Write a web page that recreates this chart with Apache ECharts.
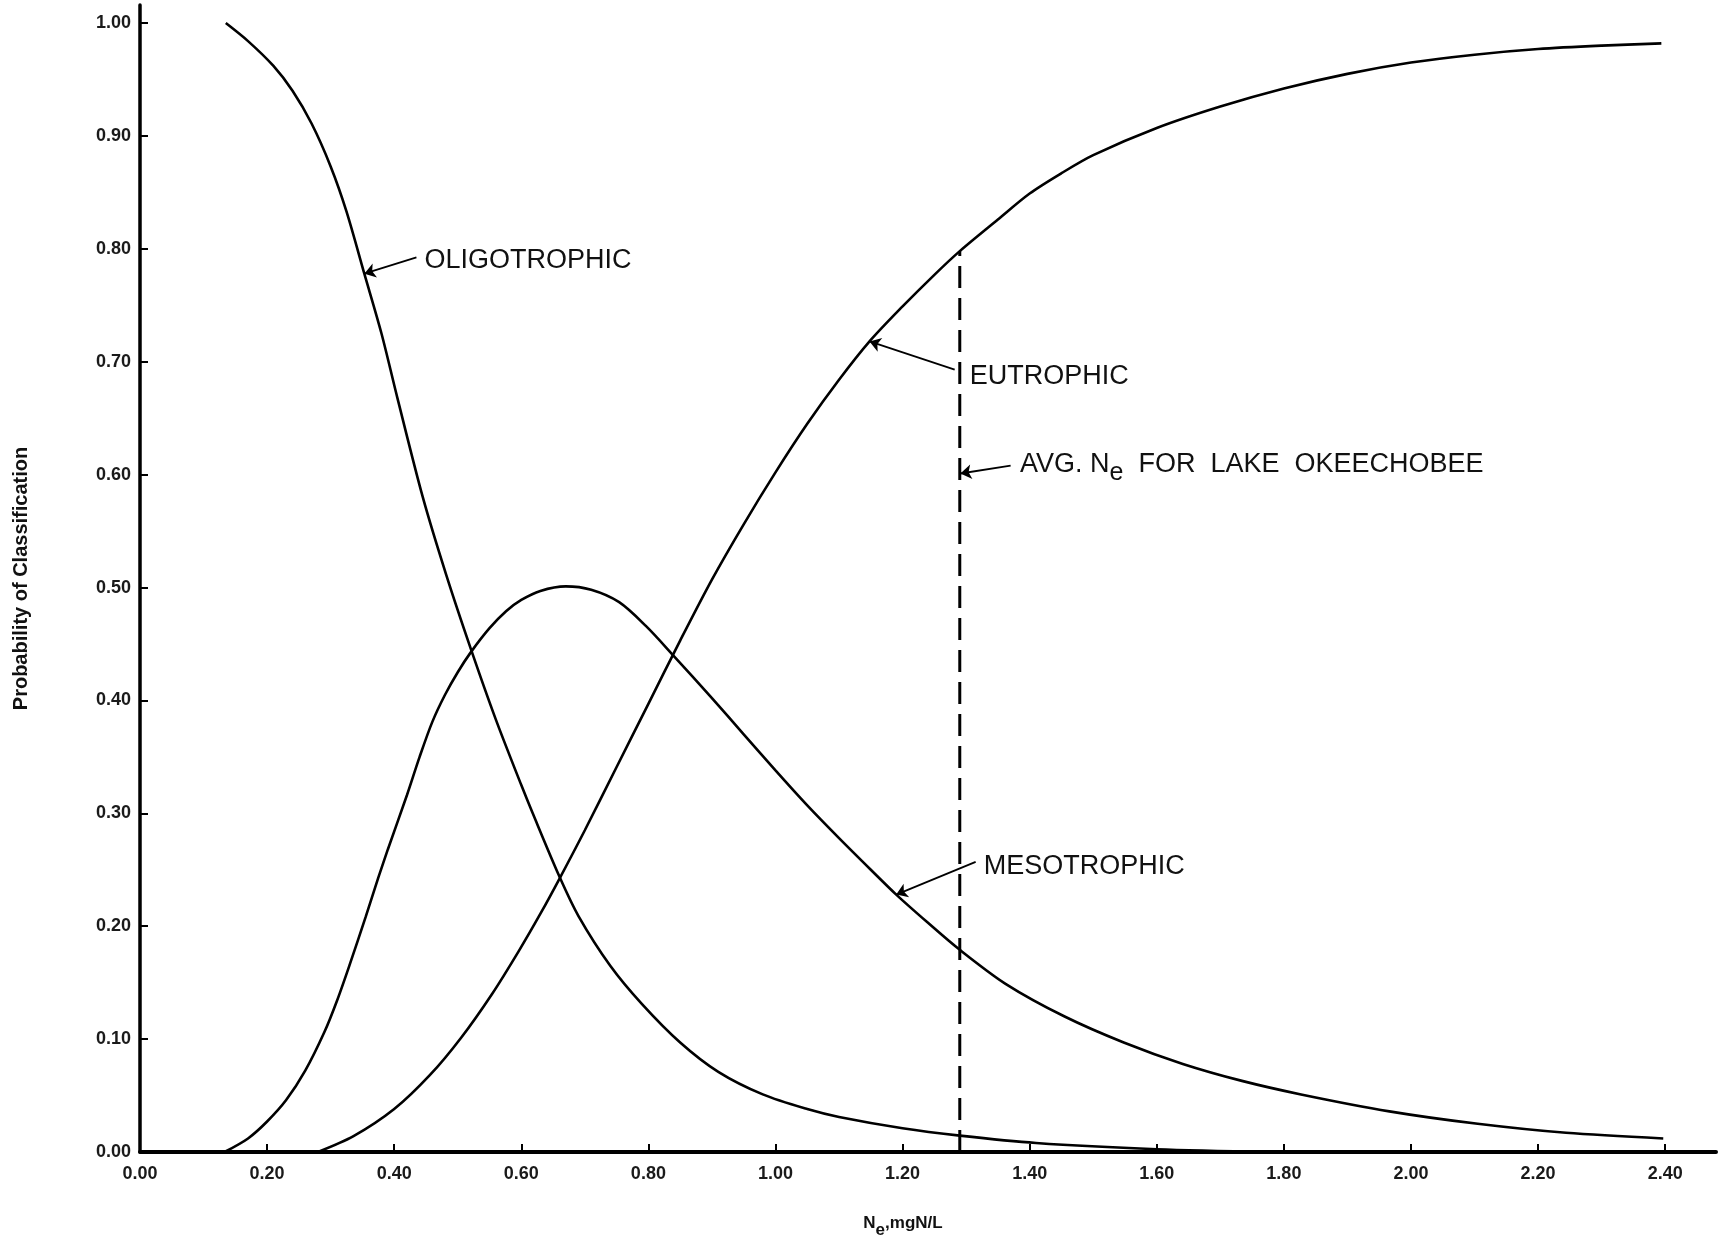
<!DOCTYPE html>
<html>
<head>
<meta charset="utf-8">
<script src="https://cdn.jsdelivr.net/npm/echarts@6/dist/echarts.min.js"></script>
<style>
html,body{margin:0;padding:0;background:#ffffff;}
#chart{width:1725px;height:1238px;}
</style>
</head>
<body>
<div id="chart"></div>
<script>
// ---- data ----
const xTickValues = [0.00, 0.20, 0.40, 0.60, 0.80, 1.00, 1.20, 1.40, 1.60, 1.80, 2.00, 2.20, 2.40];
const yTickValues = [0.00, 0.10, 0.20, 0.30, 0.40, 0.50, 0.60, 0.70, 0.80, 0.90, 1.00];

const oligotrophic = [
  [0.135, 1.000], [0.170, 0.984], [0.210, 0.962], [0.240, 0.940], [0.270, 0.911],
  [0.300, 0.873], [0.325, 0.833], [0.353, 0.778], [0.380, 0.725], [0.405, 0.668],
  [0.445, 0.580], [0.482, 0.511], [0.521, 0.445], [0.560, 0.383], [0.600, 0.325],
  [0.618, 0.300], [0.660, 0.244], [0.690, 0.209], [0.740, 0.165], [0.790, 0.131],
  [0.850, 0.097], [0.910, 0.071], [0.980, 0.051], [1.050, 0.038], [1.100, 0.031],
  [1.200, 0.021], [1.290, 0.0145], [1.410, 0.008], [1.600, 0.0025], [1.780, 0.000]
];

const mesotrophic = [
  [0.133, 0.000], [0.170, 0.012], [0.200, 0.027], [0.230, 0.046], [0.260, 0.072],
  [0.290, 0.106], [0.310, 0.134], [0.330, 0.166], [0.355, 0.208], [0.375, 0.243],
  [0.390, 0.268], [0.420, 0.316], [0.440, 0.350], [0.460, 0.381], [0.480, 0.405],
  [0.500, 0.425], [0.521, 0.443], [0.550, 0.464], [0.576, 0.479], [0.600, 0.489],
  [0.630, 0.497], [0.670, 0.501], [0.710, 0.498], [0.754, 0.487], [0.796, 0.466],
  [0.839, 0.440], [0.900, 0.402], [0.950, 0.370], [1.000, 0.338], [1.050, 0.307],
  [1.100, 0.278], [1.150, 0.250], [1.190, 0.228], [1.240, 0.203], [1.288, 0.180],
  [1.362, 0.149], [1.455, 0.120], [1.548, 0.097], [1.641, 0.078], [1.734, 0.063],
  [1.827, 0.051], [1.966, 0.036], [2.105, 0.025], [2.244, 0.017], [2.397, 0.012]
];

const eutrophic = [
  [0.280, 0.000], [0.336, 0.014], [0.400, 0.038], [0.456, 0.068], [0.505, 0.101],
  [0.554, 0.140], [0.596, 0.178], [0.631, 0.212], [0.660, 0.242], [0.700, 0.285],
  [0.750, 0.341], [0.800, 0.397], [0.850, 0.453], [0.900, 0.507], [0.950, 0.556],
  [1.000, 0.602], [1.050, 0.645], [1.100, 0.684], [1.148, 0.718], [1.200, 0.749],
  [1.250, 0.777], [1.290, 0.798], [1.350, 0.826], [1.400, 0.849], [1.450, 0.867],
  [1.500, 0.883], [1.600, 0.907], [1.700, 0.926], [1.800, 0.942], [1.900, 0.955],
  [2.000, 0.965], [2.100, 0.972], [2.200, 0.977], [2.300, 0.980], [2.394, 0.982]
];

// average Ne for Lake Okeechobee (vertical dashed line)
const avgNe = 1.29;
const avgNeLine = [[avgNe, 0.000], [avgNe, 0.798]];

// annotation labels: [x, y] anchor of text start (data units)
const labelOligo = { text: 'OLIGOTROPHIC', at: [0.447, 0.790] };
const labelEutro = { text: 'EUTROPHIC', at: [1.305, 0.687] };
const labelMeso  = { text: 'MESOTROPHIC', at: [1.327, 0.253] };
const labelAvg   = { text: '{a|AVG. N}{s|e}{a|  FOR  LAKE  OKEECHOBEE}', at: [1.384, 0.609] };

// leader arrows: [from, to, curveness]
const leaderOligo = [[0.435, 0.7925], [0.353, 0.778], -0.2];
const leaderEutro = [[1.282, 0.693], [1.148, 0.718], 0.2];
const leaderMeso  = [[1.315, 0.257], [1.190, 0.228], -0.2];
const leaderAvg   = [[1.370, 0.608], [1.291, 0.601], -0.05];

// ---- chart ----
const FONT = '"Liberation Sans", Arial, Helvetica, sans-serif';
const chart = echarts.init(document.getElementById('chart'), null, { renderer: 'canvas' });

function leader(l) {
  const ls = { color: '#000', width: 1.8, type: 'solid', curveness: l[2] };
  return [
    { coord: l[0], lineStyle: ls },
    { coord: l[1], lineStyle: ls }
  ];
}
function textMark(l) {
  return {
    coord: l.at,
    symbol: 'rect',
    symbolSize: 1,
    itemStyle: { color: 'rgba(0,0,0,0)' },
    label: {
      show: true,
      position: 'right',
      distance: 0,
      formatter: l.text,
      color: '#111',
      fontSize: 27,
      fontFamily: FONT,
      rich: {
        a: { fontSize: 27, fontFamily: FONT, color: '#111' },
        s: { fontSize: 25, fontFamily: FONT, color: '#111', padding: [18, 0, 0, 0] }
      }
    }
  };
}

const lineStyleCurve = { color: '#000', width: 2.6 };

const option = {
  backgroundColor: '#ffffff',
  animation: false,
  grid: { left: 140, top: 5, width: 1576, height: 1147, containLabel: false, outerBoundsMode: 'none' },
  xAxis: {
    type: 'value',
    min: 0,
    max: 2.48,
    name: '{n|N}{s|e}{n|,mgN/L}',
    nameLocation: 'middle',
    nameGap: 56,
    nameTextStyle: {
      padding: [0, 50, 0, 0],
      rich: {
        n: { fontSize: 17, fontWeight: 'bold', fontFamily: FONT, color: '#111' },
        s: { fontSize: 17, fontWeight: 'bold', fontFamily: FONT, color: '#111', padding: [14, 0, 0, 0] }
      }
    },
    axisLine: { show: true, onZero: true, lineStyle: { color: '#000', width: 4 } },
    axisTick: { show: true, inside: true, length: 8, lineStyle: { color: '#000', width: 2 }, customValues: xTickValues },
    axisLabel: {
      customValues: xTickValues,
      formatter: v => v.toFixed(2),
      color: '#1a1a1a', fontSize: 18, fontWeight: 'bold', fontFamily: FONT, margin: 13
    },
    splitLine: { show: false }
  },
  yAxis: {
    type: 'value',
    min: 0,
    max: 1.016,
    name: 'Probability of Classification',
    nameLocation: 'middle',
    nameGap: 109,
    nameTextStyle: { fontSize: 20, fontWeight: 'bold', fontFamily: FONT, color: '#111' },
    axisLine: { show: true, lineStyle: { color: '#000', width: 3.5 } },
    axisTick: { show: true, inside: true, length: 8, lineStyle: { color: '#000', width: 2 }, customValues: yTickValues },
    axisLabel: {
      customValues: yTickValues,
      formatter: v => v.toFixed(2),
      color: '#1a1a1a', fontSize: 18, fontWeight: 'bold', fontFamily: FONT, margin: 9
    },
    splitLine: { show: false }
  },
  series: [
    {
      name: 'Oligotrophic', type: 'line', data: oligotrophic, smooth: 0.3,
      symbol: 'none', lineStyle: lineStyleCurve, z: 3, silent: true
    },
    {
      name: 'Mesotrophic', type: 'line', data: mesotrophic, smooth: 0.3,
      symbol: 'none', lineStyle: lineStyleCurve, z: 3, silent: true
    },
    {
      name: 'Eutrophic', type: 'line', data: eutrophic, smooth: 0.3,
      symbol: 'none', lineStyle: lineStyleCurve, z: 3, silent: true
    },
    {
      name: 'Avg Ne', type: 'line', data: avgNeLine,
      symbol: 'none', silent: true, z: 2,
      lineStyle: { color: '#000', width: 3, type: [22, 10] },
      markLine: {
        silent: true,
        animation: false,
        symbol: ['none', 'arrow'],
        symbolSize: 11,
        label: { show: false },
        lineStyle: { color: '#000', width: 1.8, type: 'solid' },
        emphasis: { disabled: true },
        data: [leader(leaderOligo), leader(leaderEutro), leader(leaderMeso), leader(leaderAvg)]
      },
      markPoint: {
        silent: true,
        animation: false,
        data: [textMark(labelOligo), textMark(labelEutro), textMark(labelMeso), textMark(labelAvg)]
      }
    }
  ]
};

chart.setOption(option);
</script>
</body>
</html>
